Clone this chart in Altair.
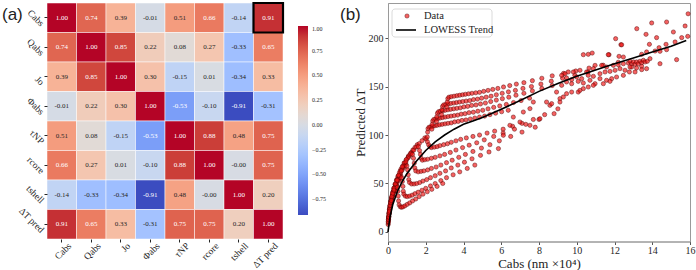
import altair as alt
import numpy as np
import pandas as pd

SERIF = "Liberation Serif"
SANS = "Liberation Sans"

# ---------------- (a) correlation heatmap ----------------
features = ["Cabs", "Qabs", "Jo", "Φabs", "τNP", "rcore", "tshell", "ΔT pred"]
corr = [
    [1.00, 0.74, 0.39, -0.01, 0.51, 0.66, -0.14, 0.91],
    [0.74, 1.00, 0.85, 0.22, 0.08, 0.27, -0.33, 0.65],
    [0.39, 0.85, 1.00, 0.30, -0.15, 0.01, -0.34, 0.33],
    [-0.01, 0.22, 0.30, 1.00, -0.53, -0.10, -0.91, -0.31],
    [0.51, 0.08, -0.15, -0.53, 1.00, 0.88, 0.48, 0.75],
    [0.66, 0.27, 0.01, -0.10, 0.88, 1.00, -0.0, 0.75],
    [-0.14, -0.33, -0.34, -0.91, 0.48, -0.0, 1.00, 0.20],
    [0.91, 0.65, 0.33, -0.31, 0.75, 0.75, 0.20, 1.00],
]
highlight_row = "Cabs"
highlight_col = "ΔT pred"
cbar_ticks = [-0.75, -0.5, -0.25, 0.0, 0.25, 0.5, 0.75, 1.0]

# coolwarm colormap stops
coolwarm = [
    "#3b4cc0", "#4d68d7", "#6282ea", "#779af7", "#8db0fe", "#a3c2ff",
    "#b8d0f9", "#ccd9ee", "#dddddd", "#ecd3c5", "#f5c4ad", "#f7b194",
    "#f49a7b", "#ec7f63", "#de604d", "#cb3e38", "#b40426",
]

rows = []
for i, r in enumerate(features):
    for j, c in enumerate(features):
        v = corr[i][j]
        rows.append({
            "row": r, "col": c, "value": v, "label": f"{v:.2f}",
            "ink": "#ffffff" if (v >= 0.6 or v <= -0.5) else "#262626",
        })
cells = pd.DataFrame(rows)
vmin, vmax = float(cells["value"].min()), float(cells["value"].max())
stops = [float(s) for s in np.linspace(vmin, vmax, len(coolwarm))]

base = alt.Chart(cells).encode(
    x=alt.X("col:N", sort=features, title=None,
            axis=alt.Axis(labelAngle=315, labelAlign="right", labelBaseline="middle",
                          labelFontSize=9.5, labelPadding=2, labelOffset=8,
                          domain=False, tickSize=3, tickColor="#262626")),
    y=alt.Y("row:N", sort=features, title=None,
            axis=alt.Axis(labelAngle=45, labelAlign="right", labelBaseline="middle",
                          labelFontSize=9.5, labelPadding=2, labelOffset=7,
                          domain=False, tickSize=3, tickColor="#262626")),
)

heat_cells = base.mark_rect(stroke="white", strokeWidth=0.5).encode(
    color=alt.Color(
        "value:Q",
        scale=alt.Scale(domain=stops, range=coolwarm, interpolate="rgb"),
        legend=alt.Legend(
            orient="none", legendX=251, legendY=23, direction="vertical",
            gradientLength=189, gradientThickness=10, title=None,
            values=cbar_ticks, format=".2f", labelFont=SERIF, labelFontSize=6,
            labelColor="#262626", labelOffset=4, gradientStrokeWidth=0,
        ),
    )
)
heat_text = base.mark_text(font=SERIF, fontSize=7).encode(
    text="label:N", color=alt.Color("ink:N", scale=None)
)
heat_box = base.transform_filter(
    (alt.datum.row == highlight_row) & (alt.datum.col == highlight_col)
).mark_rect(filled=False, stroke="black", strokeWidth=2.2)

tag_a = alt.Chart(pd.DataFrame({"tag": ["(a)"]})).mark_text(
    font=SANS, fontSize=17, align="left", baseline="middle", color="#222222"
).encode(text="tag:N", x=alt.value(-45), y=alt.value(12))

heat = alt.layer(heat_cells, heat_text, heat_box, tag_a).resolve_scale(
    color="independent"
).properties(width=236, height=236, view=alt.ViewBackground(strokeOpacity=0))

# ---------------- (b) scatter with LOWESS trend ----------------
# rising branches near the origin
rise_x = [0.009, 0.027, 0.054, 0.09, 0.135, 0.189, 0.248, 0.315, 0.383, 0.45,
          0.014, 0.041, 0.082, 0.136, 0.204, 0.286, 0.374, 0.476, 0.578, 0.68,
          0.019, 0.057, 0.114, 0.19, 0.285, 0.399, 0.523, 0.665, 0.808, 0.95,
          0.025, 0.075, 0.15, 0.25, 0.375, 0.525, 0.688, 0.875, 1.063, 1.25,
          0.031, 0.093, 0.186, 0.31, 0.465, 0.651, 0.853, 1.085, 1.318, 1.55,
          0.039, 0.117, 0.234, 0.39, 0.585, 0.819, 1.073, 1.365, 1.658, 1.95,
          0.018, 0.04, 0.072, 0.112, 0.162, 0.218, 0.281, 0.349, 0.416,
          0.027, 0.061, 0.109, 0.17, 0.245, 0.33, 0.425, 0.527, 0.629,
          0.038, 0.085, 0.152, 0.237, 0.342, 0.461, 0.594, 0.736, 0.879,
          0.05, 0.112, 0.2, 0.312, 0.45, 0.606, 0.781, 0.969, 1.156,
          0.062, 0.14, 0.248, 0.388, 0.558, 0.752, 0.969, 1.2, 1.434,
          0.078, 0.176, 0.312, 0.488, 0.702, 0.946, 1.219, 1.512, 1.804]
rise_y = [7.7, 13.4, 18.7, 24, 28.8, 33.6, 37.9, 41.8, 45.1, 48,
          9.3, 16.2, 22.6, 29, 34.8, 40.6, 45.8, 50.5, 54.5, 58,
          11.2, 19.6, 27.3, 35, 42, 49, 55.3, 60.9, 65.8, 70,
          13.1, 23, 32, 41, 49.2, 57.4, 64.8, 71.3, 77.1, 82,
          14.4, 25.2, 35.1, 45, 54, 63, 71.1, 78.3, 84.6, 90,
          15.5, 27.2, 37.8, 48.5, 58.2, 67.9, 76.6, 84.4, 91.2, 97,
          10.6, 16, 21.4, 26.4, 31.2, 35.8, 39.9, 43.5, 46.6,
          12.8, 19.4, 25.8, 31.9, 37.7, 43.2, 48.2, 52.5, 56.3,
          15.4, 23.5, 31.2, 38.5, 45.5, 52.2, 58.1, 63.4, 67.9,
          18, 27.5, 36.5, 45.1, 53.3, 61.1, 68, 74.2, 79.5,
          19.8, 30.2, 40.1, 49.5, 58.5, 67, 74.7, 81.4, 87.3,
          21.4, 32.5, 43.2, 53.4, 63, 72.2, 80.5, 87.8, 94.1]

# hook tips turning down
dip_x = [0.49, 0.52, 0.54, 0.56, 0.72, 0.76, 0.79, 0.81, 1.0, 1.04, 1.07, 1.1,
         1.3, 1.35, 1.39, 1.42, 1.61, 1.67, 1.72, 1.76, 2.02, 2.09, 2.15, 2.22]
dip_y = [46, 42, 37, 32, 56, 52, 47, 42, 68, 64, 59, 54,
         80, 76, 71, 66, 88, 84, 80, 76, 96, 93, 90, 88]

# lower branches continuing to the right
low_x = [2.3, 2.45, 2.6, 2.75, 2.95, 3.15, 3.35, 3.6, 3.85, 4.15, 4.5, 4.85, 5.25, 5.65, 6.1, 6.6, 7.1, 7.7, 8.3, 9.0,
         1.82, 1.95, 2.1, 2.3, 2.5, 2.75, 3.0, 3.3, 3.6, 3.95, 4.3, 4.7, 5.1, 5.6, 6.1, 6.7, 7.3, 8.0, 8.8,
         1.47, 1.6, 1.75, 1.9, 2.1, 2.3, 2.55, 2.8, 3.1, 3.4, 3.75, 4.1, 4.5, 4.95, 5.4, 5.9, 6.5, 7.1, 7.8,
         1.14, 1.25, 1.38, 1.52, 1.68, 1.85, 2.05, 2.25, 2.5, 2.75, 3.05, 3.35, 3.7, 4.05, 4.45, 4.9, 5.35, 5.85,
         0.84, 0.92, 1.02, 1.14, 1.28, 1.43, 1.6, 1.8, 2.0, 2.25, 2.5, 2.8, 3.1, 3.45, 3.8, 4.2, 4.6,
         0.59, 0.65, 0.72, 0.8, 0.9, 1.02, 1.15, 1.3, 1.47, 1.65, 1.85, 2.08, 2.32, 2.6, 2.9]
low_y = [87, 87.5, 88, 89, 90, 91, 92.5, 94, 95.5, 97, 98.5, 100, 102, 104, 106, 109, 112, 116, 121, 127,
         74, 74.5, 75, 76, 77, 78.5, 80, 82, 84.5, 87, 89.5, 92, 95, 98.5, 102, 106, 111, 116, 122,
         63, 62, 62.5, 63, 64, 65.5, 67, 69, 71.5, 74, 77, 80, 83, 86.5, 90, 94, 98.5, 103, 108,
         51, 49.5, 49.5, 50, 51, 52.5, 54, 56, 58, 60.5, 63, 66, 69, 72, 75.5, 79, 82.5, 86,
         39, 37, 36.5, 37, 38, 39.5, 41, 43, 45, 47.5, 50, 53, 56, 59, 62, 65.5, 69,
         28, 26, 25.5, 26, 27, 28.5, 30, 32, 34, 36.5, 39, 41.5, 44, 47, 50]

# upper arcs
arc_x = [2.08, 2.1, 2.12, 2.18, 2.27, 2.37, 2.48, 2.6, 2.73, 2.87, 3.02, 3.18, 3.35, 3.53, 3.72, 3.92, 4.13, 4.36, 4.6, 4.85, 5.12, 5.4, 5.7, 6.02, 6.37,
         2.32, 2.34, 2.37, 2.43, 2.53, 2.64, 2.76, 2.89, 3.03, 3.18, 3.34, 3.51, 3.69, 3.88, 4.08, 4.29, 4.52, 4.76, 5.02, 5.3, 5.6, 5.92, 6.27, 6.65, 7.05, 7.5,
         2.57, 2.59, 2.62, 2.68, 2.78, 2.9, 3.03, 3.17, 3.32, 3.48, 3.65, 3.83, 4.02, 4.22, 4.43, 4.66, 4.9, 5.16, 5.44, 5.74, 6.06, 6.4, 6.78, 7.2, 7.65, 8.15, 8.7,
         2.84, 2.86, 2.89, 2.95, 3.06, 3.19, 3.33, 3.48, 3.63, 3.79, 3.96, 4.14, 4.33, 4.53, 4.74, 4.96, 5.2, 5.46, 5.74, 6.05, 6.38, 6.75, 7.15, 7.6, 8.1, 8.65, 9.25, 9.9, 10.6,
         3.12, 3.14, 3.17, 3.23, 3.35, 3.5, 3.65, 3.8, 3.95, 4.1, 4.27, 4.45, 4.65, 4.85, 5.07, 5.3, 5.55, 5.82, 6.12, 6.45, 6.8, 7.2, 7.65, 8.15, 8.7, 9.3, 9.95, 10.65, 11.4, 12.2]
arc_y = [98, 103, 106.5, 108, 108.5, 109, 109.5, 110, 110.5, 111, 111.5, 112, 112.5, 113.5, 114, 115, 115.5, 116.5, 117.5, 118.5, 119.5, 121, 122.5, 124, 125.5,
         106, 111, 114.5, 116, 116.5, 117, 117.5, 118, 118.5, 119, 119.5, 120, 120.5, 121.5, 122, 123, 123.5, 124.5, 125.5, 127, 128.5, 130, 131.5, 133.5, 135.5, 138,
         114, 119, 122.5, 124, 124.5, 125, 125.5, 126, 126.5, 127, 127.5, 128, 129, 129.5, 130.5, 131, 132, 133, 134.5, 136, 137.5, 139, 141, 143, 145.5, 148, 151,
         121, 126, 129.5, 131, 131.5, 132, 132.5, 133, 133.5, 134, 134.5, 135, 135.5, 136.5, 137, 138, 139, 140, 141.5, 143, 144.5, 146, 148, 150, 152.5, 155.5, 158.5, 161.5, 165,
         129, 134, 137.5, 139, 139.5, 140, 140.5, 141, 141.5, 142, 142.5, 143, 143.5, 144, 145, 146, 147, 148, 149.5, 151, 152.5, 154, 156, 158.5, 161, 163.5, 166, 169, 172, 175]

# scattered band at large cross-section
band_x = [15.9, 14.76, 13.97, 13.18, 15.74, 12.06, 13.67, 14.23, 15.12, 15.56, 15.88, 12.34, 13.85, 14.36, 14.73, 15.21,
          10.35, 10.61, 10.82, 11.71, 12.24, 12.47, 13.44, 13.70, 14.15, 14.41, 14.76, 15.29,
          12.73, 12.82, 12.91, 13.0, 13.09, 13.17, 13.26, 13.35, 13.44, 13.53, 13.62, 13.74, 13.88, 12.91, 13.17, 13.44, 13.70,
          14.41, 12.47, 12.20, 11.94, 11.58, 11.32, 10.97, 10.88, 10.52, 10.17, 9.82, 9.55, 9.38,
          9.2, 9.46, 9.73, 9.99, 10.26, 10.61, 10.88, 11.23, 11.50, 11.76, 12.03, 12.29, 12.56, 12.82,
          9.2, 9.46, 9.73, 10.08, 10.35, 10.70, 10.97, 11.23, 11.58, 11.85, 12.11, 12.47, 12.79, 13.09, 13.44,
          9.11, 9.29, 9.46, 9.73, 10.08, 10.35, 10.61, 10.88, 11.41, 11.76,
          6.11, 6.46, 6.64, 6.99, 7.17, 7.52, 7.52, 7.7, 8.05, 8.4, 8.58, 8.67, 8.93, 9.11, 10.17, 11.67, 12.38]
band_y = [225, 216.5, 215.5, 209.6, 212.4, 199.3, 203.8, 200.4, 206.2, 200.4, 201.7, 193.1, 193.5, 190.0, 193.5, 195.9,
          182.8, 183.2, 184.5, 182.8, 181.1, 180.4, 183.2, 185.6, 186.6, 186.3, 188.0, 177.7,
          174.2, 176.0, 173.5, 175.3, 172.9, 175.3, 173.5, 176.0, 174.6, 177.0, 175.3, 176.0, 178.7, 170.1, 169.1, 170.8, 168.4,
          173.5, 173.5, 172.5, 171.8, 170.1, 171.8, 171.8, 168.4, 165.0, 166.7, 165.0, 165.0, 163.2,
          161.5, 158.8, 157.1, 159.8, 158.1, 161.5, 160.5, 163.2, 165.0, 165.6, 166.7, 168.4, 166.7, 170.1,
          151.2, 154.7, 152.9, 155.3, 153.6, 156.4, 152.9, 158.1, 156.4, 158.1, 159.8, 161.5, 165.0, 165.0, 167.4,
          137.5, 139.2, 142.6, 144.3, 144.3, 147.8, 149.5, 151.2, 152.9, 155.3,
          99.7, 110, 118.5, 113.4, 123.7, 110, 127.2, 134, 116.8, 134, 130.6, 132.3, 144.3, 134, 146, 182.8, 193]

# LOWESS trend
trend_x = [0, 0.1, 0.25, 0.5, 0.75, 1, 1.5, 2, 2.5, 3, 3.5, 4, 4.5, 5, 6, 7, 8, 9, 10, 11, 12, 13, 14, 15, 15.8]
trend_y = [0, 15, 28, 42, 52, 60, 73, 84, 93, 100, 106, 111, 114.5, 118, 126.5, 135.5, 145, 153, 160.5, 167, 173.5, 179.5, 185.5, 191.5, 197.5]

x_ticks = [0, 2, 4, 6, 8, 10, 12, 14, 16]
y_ticks = [0, 50, 100, 150, 200]
legend_labels = ["Data", "LOWESS Trend"]

points = pd.DataFrame({
    "x": rise_x + dip_x + low_x + arc_x + band_x,
    "y": rise_y + dip_y + low_y + arc_y + band_y,
})
trend = pd.DataFrame({"x": trend_x, "y": trend_y})

xscale = alt.Scale(domain=[0, 16], nice=False, zero=False)
yscale = alt.Scale(domain=[-9.8, 236.1], nice=False, zero=False)

# one axis definition shared by every layer that uses the data scales
x_enc = alt.X("x:Q", scale=xscale,
              axis=alt.Axis(values=x_ticks, title="Cabs (nm ×10⁴)",
                            labelFontSize=10, titleFontSize=13, titlePadding=2,
                            tickSize=3, labelPadding=1, labelOverlap=False,
                            labelFlush=False, grid=False))
y_enc = alt.Y("y:Q", scale=yscale,
              axis=alt.Axis(values=y_ticks, title="Predicted ΔT",
                            labelFontSize=10, titleFontSize=13, titlePadding=1,
                            tickSize=3, labelPadding=2, labelOverlap=False,
                            labelFlush=False, grid=False))

DOT = dict(fill="#f01818", fillOpacity=0.68, stroke="#500000", strokeWidth=0.6, strokeOpacity=0.75)

dots = alt.Chart(points).mark_circle(size=18, **DOT).encode(x=x_enc, y=y_enc)
trend_line = alt.Chart(trend).mark_line(color="black", strokeWidth=1.6).encode(x=x_enc, y=y_enc)

one = pd.DataFrame({"k": [0]})
key_frame = alt.Chart(one).mark_rect(
    fill="white", fillOpacity=0.85, stroke="#d0d0d0", strokeWidth=0.8, cornerRadius=3
).encode(x=alt.value(4), x2=alt.value(104), y=alt.value(6), y2=alt.value(34))
key_dot = alt.Chart(one).mark_circle(size=18, **DOT).encode(x=alt.value(19), y=alt.value(13))
key_line = alt.Chart(one).mark_rule(color="black", strokeWidth=1.6).encode(
    x=alt.value(8), x2=alt.value(28), y=alt.value(27)
)
key_text1 = alt.Chart(pd.DataFrame({"label": legend_labels[:1]})).mark_text(
    font=SERIF, fontSize=10.5, align="left", baseline="middle", color="#222222"
).encode(text="label:N", x=alt.value(36), y=alt.value(13))
key_text2 = alt.Chart(pd.DataFrame({"label": legend_labels[1:]})).mark_text(
    font=SERIF, fontSize=10.5, align="left", baseline="middle", color="#222222"
).encode(text="label:N", x=alt.value(36), y=alt.value(27))

tag_b = alt.Chart(pd.DataFrame({"tag": ["(b)"]})).mark_text(
    font=SANS, fontSize=17, align="left", baseline="middle", color="#222222"
).encode(text="tag:N", x=alt.value(-48), y=alt.value(12))

scatter = alt.layer(
    dots, trend_line, key_frame, key_dot, key_line, key_text1, key_text2, tag_b
).properties(width=302, height=238.5)

chart = alt.hconcat(heat, scatter, spacing=105, bounds="flush").properties(
    padding={"left": 2, "top": 1, "right": 0, "bottom": 0}
).configure_view(
    stroke="#9a9a9a", strokeWidth=1
).configure_axis(
    labelFont=SERIF, titleFont=SERIF, titleFontWeight="normal",
    labelColor="#262626", titleColor="#222222",
    domainColor="#9a9a9a", tickColor="#555555",
)

chart.save("out.html", embed_options={"renderer": "svg", "actions": False})
